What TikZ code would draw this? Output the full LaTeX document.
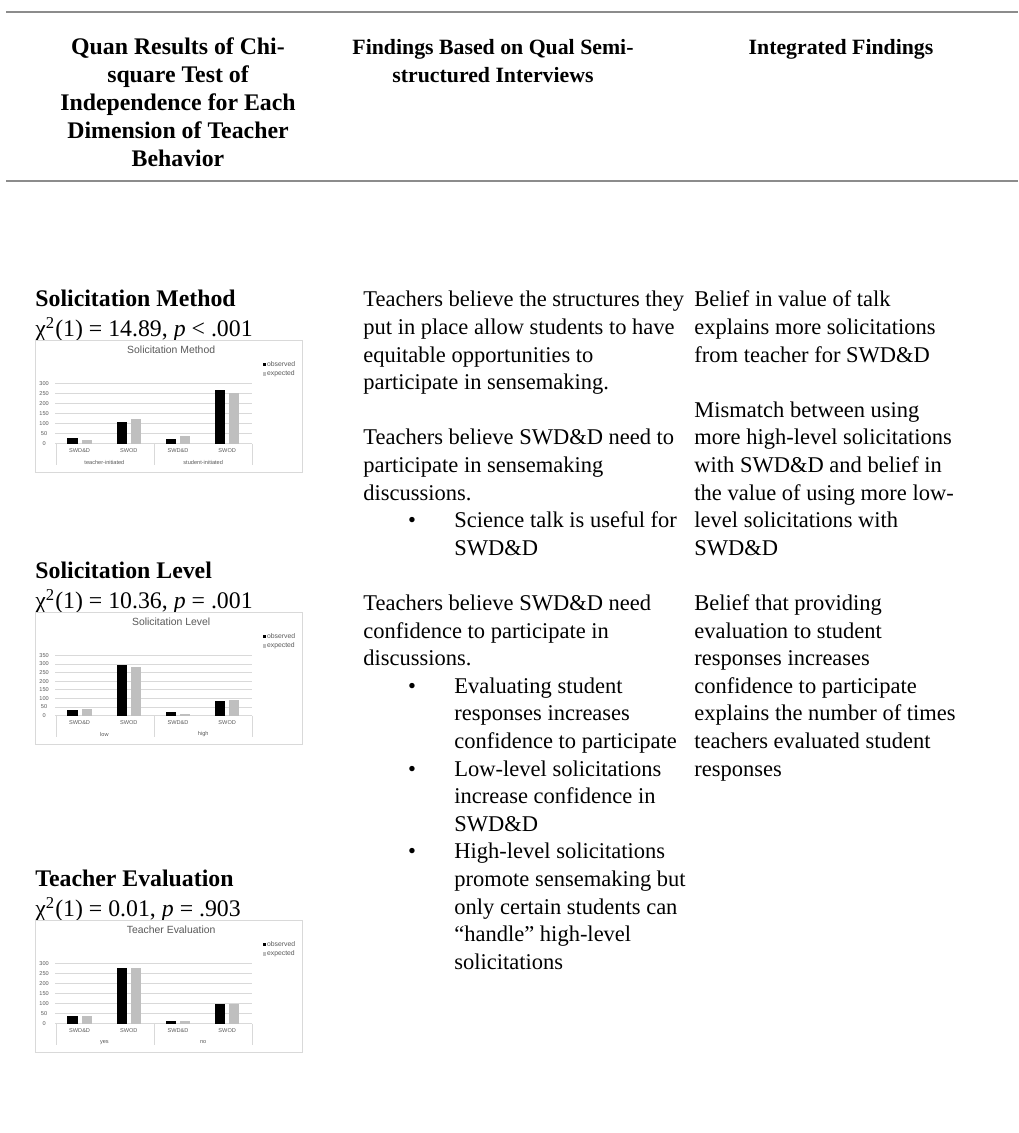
\documentclass[tikz,border=0pt]{standalone}
\usepackage{fontspec}
\setmainfont{Liberation Serif}
\newfontfamily\chartfont{Liberation Sans}

\definecolor{rulegray}{HTML}{8C8C8C}
\definecolor{gridgray}{HTML}{D9D9D9}
\definecolor{labelgray}{HTML}{595959}
\definecolor{expgray}{HTML}{BFBFBF}

\tikzset{
  rulebar/.style={draw=rulegray, line width=1pt},
  headtext/.style={font=\bfseries\fontsize{10.9}{13.8}\selectfont, align=center, anchor=north, inner sep=0pt},
  quanhead/.style={headtext, font=\bfseries\fontsize{11.9}{14}\selectfont},
  bodytext/.style={font=\fontsize{11.25}{13.8}\selectfont, align=left, anchor=north west, inner sep=0pt},
  quantext/.style={font=\fontsize{11.9}{13.8}\selectfont, align=left, anchor=north west, inner sep=0pt},
  bullettext/.style={font=\fontsize{11.25}{13.8}\selectfont, anchor=north, inner sep=0pt},
  chartframe/.style={draw=gridgray, line width=0.3pt, fill=white},
  gridline/.style={draw=gridgray, line width=0.3pt},
  charttitle/.style={font=\chartfont\fontsize{5.2}{6}\selectfont, text=labelgray, inner sep=0pt},
  ticklabel/.style={font=\chartfont\fontsize{2.8}{3}\selectfont, text=labelgray, inner sep=0pt},
  legendlabel/.style={font=\chartfont\fontsize{3.4}{4}\selectfont, text=labelgray, inner sep=0pt, anchor=west},
  obsbar/.style={fill=black},
  expbar/.style={fill=expgray},
}

% #1 name, #2 top left, #3 title, #4 y steps, #5 groups, #6 bars
\newcommand{\chartbox}[6]{%
  \begin{scope}[shift={#2}, x=133.5pt, y=-66pt]
    \draw[chartframe] (0,0) rectangle (1,1);
    \node[charttitle] (#1title) at (0.51,0.077) {#3};
    \foreach \yi in {0,...,#4}{
      \pgfmathsetmacro{\gy}{0.785-\yi*0.458/#4}
      \pgfmathtruncatemacro{\lab}{50*\yi}
      \draw[gridline] (0.075,\gy) -- (0.812,\gy);
      \node[ticklabel] (#1y\yi) at (0.034,\gy) {\lab};
    }
    \foreach \sx in {0.078,0.445,0.812}
      \draw[gridline] (\sx,0.785) -- (\sx,0.946);
    \foreach \ci/\cat in {1/SWD\&D,2/SWOD,3/SWD\&D,4/SWOD}
      \node[ticklabel] (#1x\ci) at ({0.075+(\ci-0.5)*0.18425},0.84) {\cat};
    \foreach \gx/\grp [count=\n] in {#5}
      \node[ticklabel] (#1g\n) at (\gx,0.925) {\grp};
    \foreach \ci/\ob/\ex in {#6}{
      \pgfmathsetmacro{\cx}{0.075+(\ci-0.5)*0.18425}
      \fill[obsbar] ({\cx-0.046},0.785) rectangle ({\cx-0.0074},{0.785-\ob*0.458/(50*#4)});
      \fill[expbar] ({\cx+0.0074},0.785) rectangle ({\cx+0.046},{0.785-\ex*0.458/(50*#4)});
    }
    \fill[obsbar] (0.853,0.171) rectangle (0.865,0.196);
    \node[legendlabel] (#1obs) at (0.868,0.183) {observed};
    \fill[expbar] (0.853,0.244) rectangle (0.865,0.269);
    \node[legendlabel] (#1exp) at (0.868,0.256) {expected};
  \end{scope}}

\begin{document}
\begin{tikzpicture}[x=0.5pt, y=-0.5pt]
  \fill[white] (0,0) rectangle (1018,1133);
  \useasboundingbox (0,0) rectangle (1018,1133);

  % rules
  \coordinate (toprl) at (6,12);
  \coordinate (toprr) at (1018,12);
  \coordinate (midrl) at (6,181);
  \coordinate (midrr) at (1018,181);
  \draw[rulebar] (toprl) -- (toprr);
  \draw[rulebar] (midrl) -- (midrr);

  % header
  \node[quanhead] (headquan) at (178,34.6) {\strut Quan Results of Chi-\\square Test of\\Independence for Each\\Dimension of Teacher\\Behavior};
  \node[headtext] (headqual) at (493,35.2) {\strut Findings Based on Qual Semi-\\structured Interviews};
  \node[headtext] (headint) at (841,35.2) {\strut Integrated Findings};

  % quan column
  \node[quantext] (quanmethod) at (35,287.2) {\strut\textbf{Solicitation Method}\\χ\textsuperscript{2}(1) = 14.89, \textit{p} < .001};
  \chartbox{sm}{(35,340)}{Solicitation Method}{6}{0.26/teacher-initiated, 0.63/student-initiated}{1/28/17, 2/109/122, 3/23/37, 4/268/253}

  \node[quantext] (quanlevel) at (35,559.2) {\strut\textbf{Solicitation Level}\\χ\textsuperscript{2}(1) = 10.36, \textit{p} = .001};
  \chartbox{sl}{(35,612)}{Solicitation Level}{7}{0.26/low, 0.63/high}{1/30/38, 2/293/282, 3/23/12, 4/82/93}

  \node[quantext] (quaneval) at (35,867.2) {\strut\textbf{Teacher Evaluation}\\χ\textsuperscript{2}(1) = 0.01, \textit{p} = .903};
  \chartbox{te}{(35,920)}{Teacher Evaluation}{6}{0.26/yes, 0.63/no}{1/38/38, 2/276/276, 3/12/12, 4/97/98}

  % qual column
  \node[bodytext] (qualone) at (363,287.2) {\strut Teachers believe the structures they\\put in place allow students to have\\equitable opportunities to\\participate in sensemaking.};
  \node[bodytext] (qualtwo) at (363,425.2) {\strut Teachers believe SWD\&D need to\\participate in sensemaking\\discussions.};
  \node[bullettext] (dotone) at (412,508) {\strut\textbullet};
  \node[bodytext] (talk) at (454,508) {\strut Science talk is useful for\\SWD\&D};
  \node[bodytext] (qualthree) at (363,590.8) {\strut Teachers believe SWD\&D need\\confidence to participate in\\discussions.};
  \node[bullettext] (dottwo) at (412,673.6) {\strut\textbullet};
  \node[bodytext] (evaluating) at (454,673.6) {\strut Evaluating student\\responses increases\\confidence to participate};
  \node[bullettext] (dotthree) at (412,756.4) {\strut\textbullet};
  \node[bodytext] (lowlevel) at (454,756.4) {\strut Low-level solicitations\\increase confidence in\\SWD\&D};
  \node[bullettext] (dotfour) at (412,839.2) {\strut\textbullet};
  \node[bodytext] (highlevel) at (454,839.2) {\strut High-level solicitations\\promote sensemaking but\\only certain students can\\“handle” high-level\\solicitations};

  % integrated column
  \node[bodytext] (intone) at (694,287.2) {\strut Belief in value of talk\\explains more solicitations\\from teacher for SWD\&D};
  \node[bodytext] (inttwo) at (694,397.6) {\strut Mismatch between using\\more high-level solicitations\\with SWD\&D and belief in\\the value of using more low-\\level solicitations with\\SWD\&D};
  \node[bodytext] (intthree) at (694,590.8) {\strut Belief that providing\\evaluation to student\\responses increases\\confidence to participate\\explains the number of times\\teachers evaluated student\\responses};
\end{tikzpicture}
\end{document}
